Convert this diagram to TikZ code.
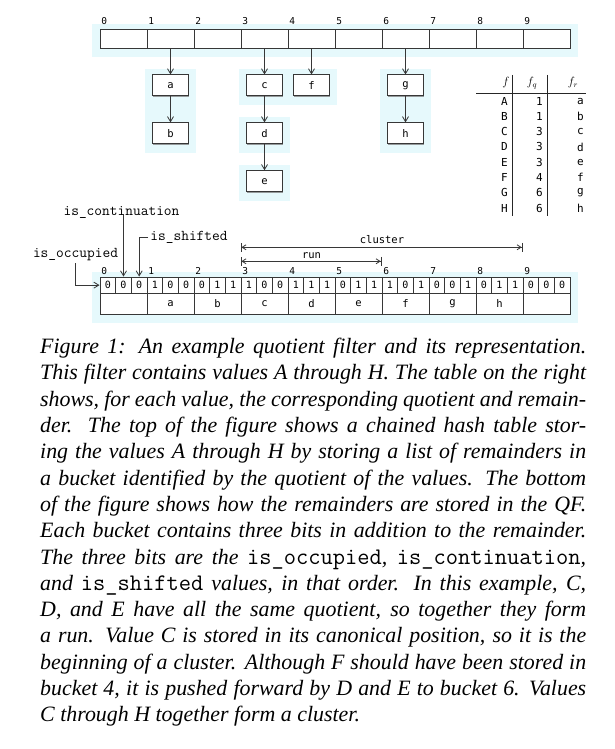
\documentclass[tikz,border=0pt]{standalone}
\usepackage{fontspec}
\setmainfont{Liberation Serif}
\newfontfamily\cellfont{DejaVu Sans Mono}
\usetikzlibrary{positioning,arrows.meta,fit,backgrounds,calc,shadows}
\definecolor{glow}{RGB}{230,249,252}
\definecolor{edge}{RGB}{55,55,55}
\newcommand\fld[1]{{\upshape\ttfamily\fontsize{23.8}{26.3}\selectfont #1}}
\tikzset{
  cell/.style={draw=edge, fill=white, line width=0.9pt, inner sep=0pt,
               font=\cellfont\fontsize{10.5}{12}\selectfont},
  bucket/.style={cell, minimum width=47pt, minimum height=19pt},
  bit/.style={cell, minimum width=15.667pt, minimum height=16.3pt,
              font=\cellfont\fontsize{10}{12}\selectfont},
  remcell/.style={cell, minimum width=47pt, minimum height=20.7pt},
  rem/.style={cell, minimum width=36pt, minimum height=21pt,
              drop shadow={shadow xshift=0.8pt, shadow yshift=-0.8pt,
                           fill=black!55, opacity=0.7}},
  idx/.style={font=\cellfont\fontsize{9.5}{11}\selectfont, anchor=south west,
              inner xsep=1.5pt, inner ysep=1.5pt},
  glowbox/.style={fill=glow, draw=none, inner xsep=7.5pt, inner ysep=7pt, yshift=-2pt},
  ptr/.style={-{Straight Barb[length=5pt,width=6pt]}, draw=edge, line width=0.8pt},
  span/.style={{Bar[width=9pt]Straight Barb[length=4pt,width=5pt]}-{Straight Barb[length=4pt,width=5pt]Bar[width=9pt]},
               draw=edge, line width=0.8pt},
  flag/.style={font=\ttfamily\fontsize{15}{17}\selectfont, inner sep=2pt},
  lab/.style={font=\cellfont\fontsize{10.5}{12}\selectfont, inner sep=1pt},
}

\begin{document}
\begin{tikzpicture}[x=1pt, y=-1pt,
    tab/.style={font=\cellfont\fontsize{11}{13}\selectfont, anchor=east, inner sep=1pt},
    head/.style={font=\fontsize{12}{14}\selectfont, inner sep=1pt},
    rule/.style={draw=black!85, line width=0.8pt},
    caption/.style={anchor=north west, text width=546pt, align=justify, inner sep=0pt,
                    font=\itshape\fontsize{21.9}{26.3}\selectfont}]

  \useasboundingbox (0,0) rectangle (614,749);

  \foreach \i in {0,...,9} {
    \node[bucket] (t\i) at ({123.5+47*\i},38.5) {};
    \node[idx, yshift=2pt] (ti\i) at (t\i.north west) {\i};
  }

  \node[rem, below=26pt of t1] (a) {a};
  \node[rem, below=26pt of a] (b) {b};
  \node[rem, below=26pt of t3] (c) {c};
  \node[rem, below=26pt of c] (d) {d};
  \node[rem, below=26pt of d] (e) {e};
  \node[rem, below=26pt of t4] (f) {f};
  \node[rem, below=26pt of t6] (g) {g};
  \node[rem, below=26pt of g] (h) {h};

  \foreach \s/\d in {t1/a, a/b, t3/c, c/d, d/e, t4/f, t6/g, g/h}
    \draw[ptr] (\s) -- (\d);

  \node[head] (hf) at (506,83) {$f$};
  \node[head] (hq) at (532,83) {$f_q$};
  \node[head] (hr) at (573,83) {$f_r$};
  \foreach \v/\q/\r [count=\k from 0] in {A/1/a, B/1/b, C/3/c, D/3/d, E/3/e, F/4/f, G/6/g, H/6/h} {
    \node[tab] (v\k) at (509,{101+15.3*\k}) {\v};
    \node[tab] (fq\k) at (544,{101+15.3*\k}) {\q};
    \node[tab] (fr\k) at (585,{101+15.3*\k}) {\r};
  }
  \draw[rule] (476,93.5) -- (586,93.5);
  \draw[rule] (512,75) -- (512,216);
  \draw[rule] (547,75) -- (547,216);

  \foreach \v [count=\k] in {0,0,0,1,0,0,0,1,1,1,0,0,1,1,1,0,1,1,1,0,1,0,0,1,0,1,1,0,0,0}
    \node[bit] (q\k) at ({100+47/3*(\k-0.5)},285.15) {\v};
  \foreach \r [count=\i from 0] in {{},a,b,c,d,e,f,g,h,{}} {
    \node[remcell] (r\i) at ({123.5+47*\i},303.65) {\r};
    \node[idx] (bi\i) at (r\i.west |- q1.north) {\i};
  }

  \node[flag] (lcont) at (121.5,212) {is\_continuation};
  \node[flag] (lshift) at (189,237) {is\_shifted};
  \node[flag] (locc) at (75.5,255) {is\_occupied};
  \draw[ptr] (q2 |- lcont.base) -- (q2.north);
  \draw[ptr] (lshift.west) -| (q3.north);
  \draw[ptr] (locc.south) |- (q1.west);

  \node[lab] (lclus) at (382,240) {cluster};
  \node[lab] (lrun) at (311.5,255.5) {run};
  \draw[span] (r3.west |- 0,247.3) -- (r9.west |- 0,247.3);
  \draw[span] (r3.west |- 0,261.3) -- (r6.west |- 0,261.3);

  \node[caption] (cap) at (40,338) {Figure 1: An example quotient filter and its representation.\linebreak
    This filter contains values A through H. The table on the right\linebreak
    shows, for each value, the corresponding quotient and remain-\linebreak
    der.  The top of the figure shows a chained hash table stor-\linebreak
    ing the values A through H by storing a list of remainders in\linebreak
    a bucket identified by the quotient of the values. The bottom\linebreak
    of the figure shows how the remainders are stored in the QF.\linebreak
    Each bucket contains three bits in addition to the remainder.\linebreak
    The three bits are the \fld{is\_occupied}, \fld{is\_continuation},\linebreak
    and \fld{is\_shifted} values, in that order. In this example, C,\linebreak
    D, and E have all the same quotient, so together they form\linebreak
    a run. Value C is stored in its canonical position, so it is the\linebreak
    beginning of a cluster. Although F should have been stored in\linebreak
    bucket 4, it is pushed forward by D and E to bucket 6. Values\linebreak
    C through H together form a cluster.};

  \begin{scope}[on background layer]
    \fill[white] (0,0) rectangle (614,749);
    \node[glowbox, fit=(t0)(t9)] (gt) {};
    \node[glowbox, fit=(a)(b)] (gab) {};
    \node[glowbox, fit=(c)(f)] (gcf) {};
    \node[glowbox, fit=(d)] (gd) {};
    \node[glowbox, fit=(e)] (ge) {};
    \node[glowbox, fit=(g)(h)] (ggh) {};
    \node[glowbox, fit=(q1)(r9)] (gq) {};
  \end{scope}
\end{tikzpicture}
\end{document}
